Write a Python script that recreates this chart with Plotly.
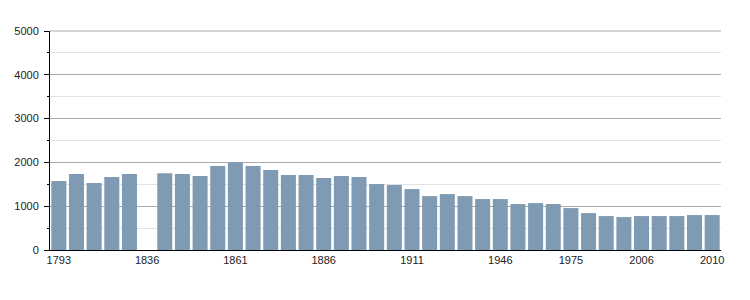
import plotly.graph_objects as go

years = ["1793", "1800", "1806", "1821", "1831", "1836", "1841", "1846", "1851", "1856",
         "1861", "1866", "1872", "1876", "1881", "1886", "1891", "1896", "1901", "1906",
         "1911", "1921", "1926", "1931", "1936", "1946", "1954", "1962", "1968", "1975",
         "1982", "1990", "1999", "2006", "2007", "2008", "2009", "2010"]
population = [1573, 1733, 1527, 1664, 1733, None, 1755, 1733, 1687, 1915,
              2006, 1915, 1824, 1710, 1710, 1641, 1687, 1664, 1505, 1482,
              1391, 1231, 1277, 1231, 1163, 1163, 1049, 1071, 1049, 957,
              843, 775, 752, 775, 775, 775, 798, 798]
tick_years = ["1793", "1836", "1861", "1886", "1911", "1946", "1975", "2006", "2010"]
y_max = 5000

fig = go.Figure(go.Bar(x=years, y=population, marker=dict(color="#7f9ab3", line=dict(width=0)),
                       hoverinfo="x+y"))

font = dict(family="Liberation Sans, Arial, sans-serif", size=11, color="#222222")
fig.update_layout(
    width=750, height=300,
    margin=dict(l=50, r=29, t=31, b=50),
    paper_bgcolor="white", plot_bgcolor="white",
    bargap=0.15, showlegend=False, font=font,
    shapes=[dict(type="line", xref="paper", x0=0, x1=1, yref="paper", y0=1, y1=1,
                 line=dict(color="#aaaaaa", width=1), layer="above")],
)
fig.update_xaxes(type="category", tickmode="array", tickvals=tick_years, ticktext=tick_years,
                 showgrid=False, showline=True, linecolor="black", linewidth=1,
                 ticks="", tickfont=font, range=[-0.5, len(years) - 0.5], zeroline=False)
fig.update_yaxes(range=[0, y_max], dtick=1000, tick0=0, showgrid=True, gridcolor="#aaaaaa", gridwidth=1,
                 showline=True, linecolor="black", linewidth=1, ticks="outside", ticklen=5,
                 tickcolor="black", tickfont=font, zeroline=False, ticklabelstandoff=3,
                 minor=dict(dtick=500, tick0=0, showgrid=True, gridcolor="#e2e2e2", ticks="outside",
                            ticklen=2, tickcolor="black"))

fig.write_html("out.html")
